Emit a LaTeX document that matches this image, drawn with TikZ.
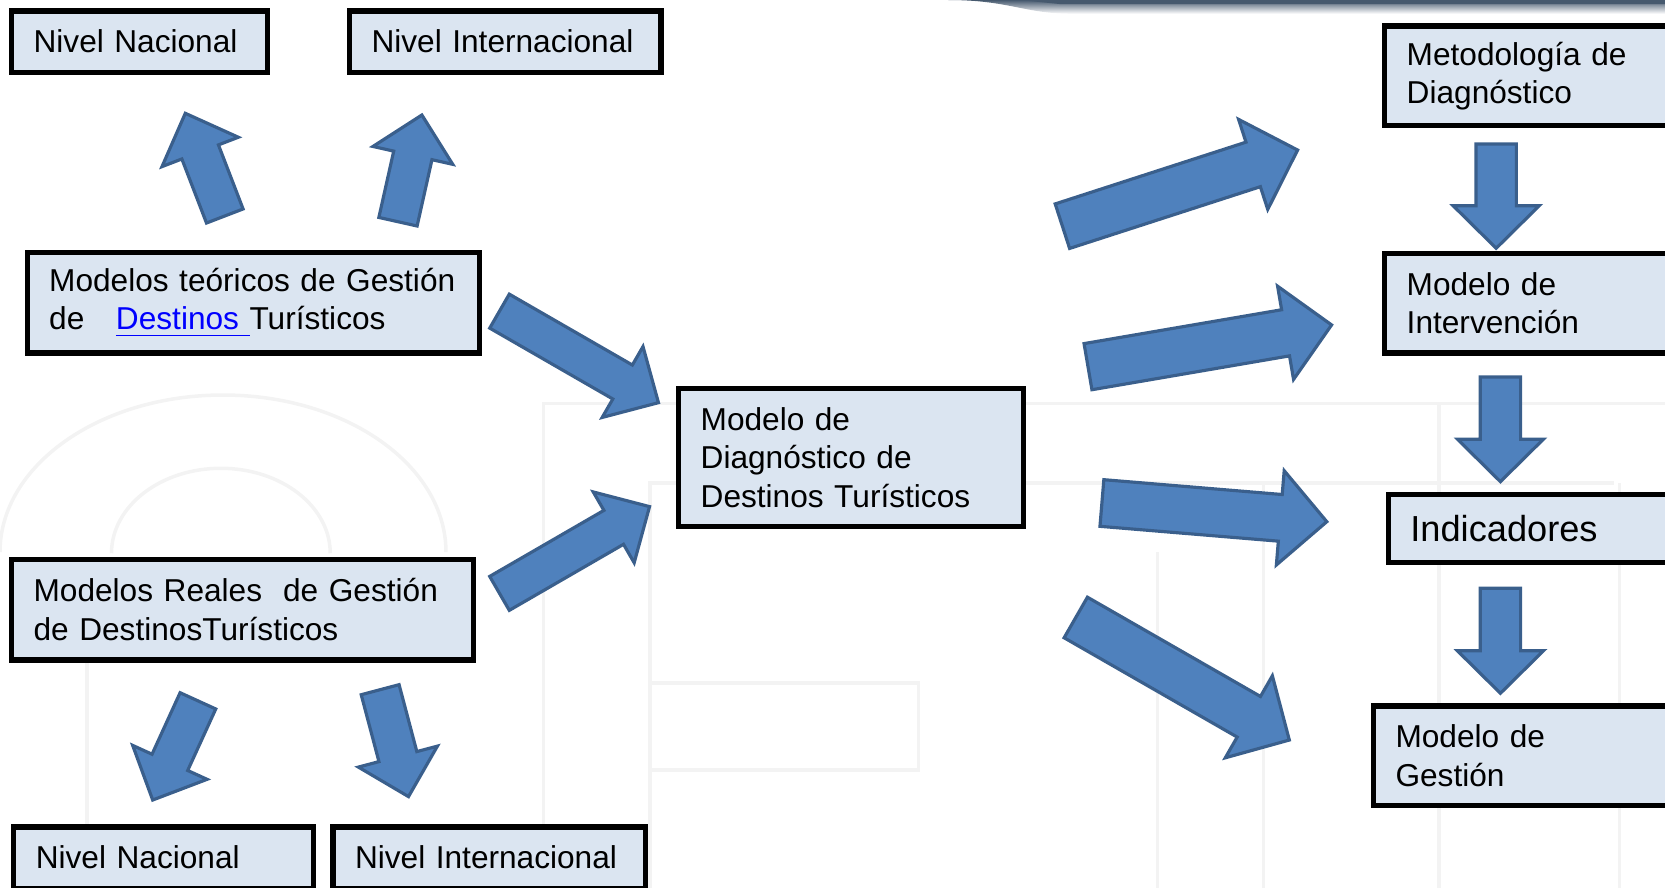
\documentclass[tikz,border=0pt]{standalone}
\usepackage{fontspec}
\setmainfont{Liberation Sans}
\usetikzlibrary{calc}
\definecolor{fondocaja}{HTML}{DBE5F1}
\definecolor{azulflecha}{HTML}{4F81BD}
\definecolor{bordeflecha}{HTML}{3A5F8C}
\definecolor{enlace}{HTML}{0000FF}
\definecolor{barra}{HTML}{46596E}
\definecolor{gristenue}{HTML}{F3F3F3}

% flecha de bloque: cola, punta, medio cuerpo, media cabeza, largo cabeza
\newcommand{\flecha}[5]{%
  \path ($(#2)!#5!(#1)$) coordinate (cuello);
  \filldraw[bloque] ($(#1)!#3!90:(#2)$) -- ($(cuello)!#3!90:(#2)$)
    -- ($(cuello)!#4!90:(#2)$) -- (#2) -- ($(cuello)!#4!-90:(#2)$)
    -- ($(cuello)!#3!-90:(#2)$) -- ($(#1)!#3!-90:(#2)$) -- cycle;
}
\newcommand{\flechachica}[2]{\flecha{#1}{#2}{0.196cm}{0.409cm}{0.414cm}}
\newcommand{\flechagrande}[2]{\flecha{#1}{#2}{0.234cm}{0.473cm}{0.467cm}}
\newcommand{\flechabaja}[2]{\flecha{#1}{#2}{0.202cm}{0.430cm}{0.425cm}}

\tikzset{
  caja/.style={draw=black, line width=1.5pt, fill=fondocaja, inner xsep=0.22cm,
    inner ysep=0pt, align=left, font=\fontsize{9}{10.9}\selectfont},
  bloque/.style={fill=azulflecha, draw=bordeflecha, line width=0.9pt},
  fondo/.style={draw=gristenue, line width=1pt}
}

\begin{document}
\begin{tikzpicture}[x=0.010619cm,y=-0.010619cm]
\useasboundingbox (0,0) rectangle (1568,836);

% marca de agua
\draw[fondo] (0,520) arc[start angle=180,end angle=360,x radius=210,y radius=148];
\draw[fondo] (105,521) arc[start angle=180,end angle=360,x radius=103,y radius=80];
\draw[fondo] (82,624) -- (82,836);
\draw[fondo] (512,836) -- (512,380) -- (1568,380);
\draw[fondo] (612,836) -- (612,455) -- (1520,455);
\draw[fondo] (612,643) rectangle (865,725);
\draw[fondo] (1090,520) -- (1090,836);
\draw[fondo] (1190,455) -- (1190,836);
\draw[fondo] (1355,380) -- (1355,836);
\draw[fondo] (1525,455) -- (1525,836);

% barra superior
\shade[top color=barra, bottom color=white] (893,0) .. controls (950,0) and (965,13) .. (1010,13) -- (1568,13) -- (1568,0) -- cycle;
\fill[barra] (960,0) -- (1568,0) -- (1568,4) -- (1000,4) -- cycle;

% cajas
\node[caja, text width=2.118cm, minimum height=0.614cm] (nacional1) at (131.35,39.2) {Nivel Nacional};
\node[caja, text width=2.676cm, minimum height=0.614cm] (internacional1) at (475.9,39.2) {Nivel Internacional};
\node[caja, text width=4.083cm, minimum height=1.005cm] (teoricos) at (238.55,285.2)
  {Modelos teóricos de Gestión\\de\ \ \ {\color{enlace}\underline{Destinos\ }}Turísticos};
\node[caja, text width=4.181cm, minimum height=1.007cm] (reales) at (228.5,574.1)
  {Modelos Reales\ \ de Gestión\\de DestinosTurísticos};
\node[caja, text width=2.556cm, minimum height=0.614cm] (nacional2) at (154.05,807.7) {Nivel Nacional};
\node[caja, text width=2.685cm, minimum height=0.614cm] (internacional2) at (460.75,807.7) {Nivel Internacional};
\node[caja, text width=3.012cm, minimum height=1.380cm] (diagnostico) at (801.65,431)
  {Modelo de\\Diagnóstico de\\Destinos Turísticos};
\node[caja, text width=2.57cm, minimum height=0.996cm] (metodologia) at (1445.75,71.4)
  {Metodología de\\Diagnóstico};
\node[caja, text width=2.57cm, minimum height=0.998cm] (intervencion) at (1445.75,285.5)
  {Modelo de\\Intervención};
\node[caja, text width=2.533cm, minimum height=0.680cm, font=\fontsize{10.3}{12}\selectfont]
  (indicadores) at (1447.5,497.5) {Indicadores};
\node[caja, text width=2.682cm, minimum height=0.997cm] (gestion) at (1440.5,711.75)
  {Modelo de\\Gestión};

% flechas
\coordinate (c1) at (211.7,203.4);  \coordinate (p1) at (174.5,106.7);
\coordinate (c2) at (374.8,208.8);  \coordinate (p2) at (397.3,108.3);
\coordinate (c3) at (470.4,293);    \coordinate (p3) at (620.1,379.2);
\coordinate (c4) at (470.4,558.8);  \coordinate (p4) at (611.7,477.1);
\coordinate (c5) at (186.4,660);    \coordinate (p5) at (143.8,753.4);
\coordinate (c6) at (358,649.5);    \coordinate (p6) at (384.7,750.2);
\coordinate (c7) at (1000.5,213);   \coordinate (p7) at (1222,141.3);
\coordinate (c8) at (1024.6,345.3); \coordinate (p8) at (1254,306);
\coordinate (c9) at (1037.7,473.7); \coordinate (p9) at (1249.5,491.3);
\coordinate (c10) at (1013.1,581.5);\coordinate (p10) at (1214.2,696.9);
\coordinate (c11) at (1409,135.6);  \coordinate (p11) at (1409,233.8);
\coordinate (c12) at (1413,355);    \coordinate (p12) at (1413,453.6);
\coordinate (c13) at (1413,554);    \coordinate (p13) at (1413,652.9);

\flechachica{c1}{p1}
\flechachica{c2}{p2}
\flechachica{c3}{p3}
\flechachica{c4}{p4}
\flechachica{c5}{p5}
\flechachica{c6}{p6}
\flechagrande{c7}{p7}
\flechagrande{c8}{p8}
\flechagrande{c9}{p9}
\flechagrande{c10}{p10}
\flechabaja{c11}{p11}
\flechabaja{c12}{p12}
\flechabaja{c13}{p13}
\end{tikzpicture}
\end{document}
